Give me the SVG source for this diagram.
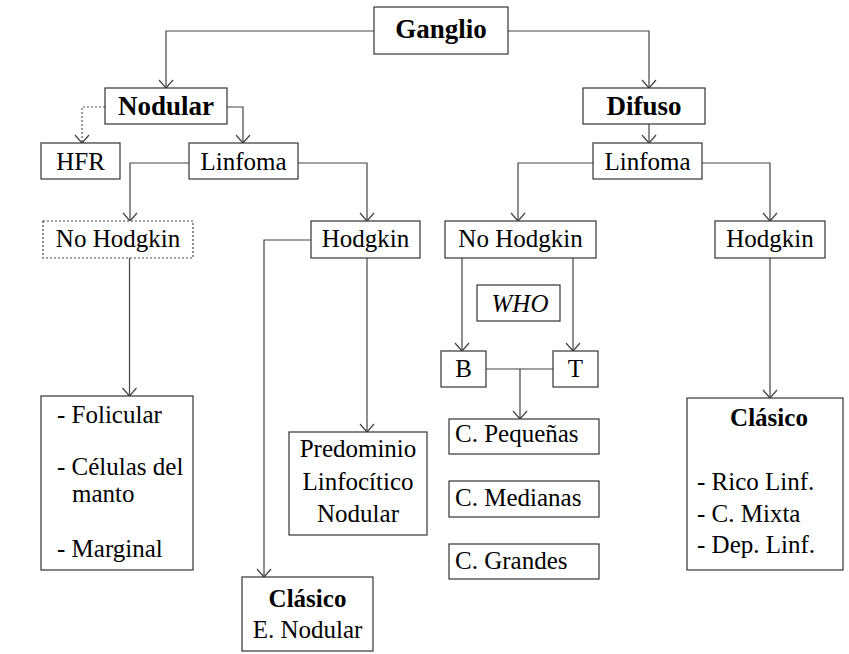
<svg xmlns="http://www.w3.org/2000/svg" width="849" height="654" viewBox="0 0 849 654">
  <defs>
    <marker id="arr" viewBox="-10 -9 12 18" markerWidth="12" markerHeight="18" refX="0" refY="0" orient="auto" markerUnits="userSpaceOnUse">
      <path d="M-8,-7 L0,0 L-8,7" fill="none" stroke="#444" stroke-width="1.2"/>
    </marker>
  </defs>
  <rect width="849" height="654" fill="#fff"/>

  <g id="connectors" fill="none" stroke="#444" stroke-width="1.2">
    <path d="M374,31 H166 V88" marker-end="url(#arr)"/>
    <path d="M508,31 H649 V88" marker-end="url(#arr)"/>
    <path d="M105,107 H82 V143" stroke="#555" stroke-dasharray="2 2" marker-end="url(#arr)"/>
    <path d="M227,107 H243 V143" marker-end="url(#arr)"/>
    <path d="M189,163 H130 V221" marker-end="url(#arr)"/>
    <path d="M298,163 H367 V221" marker-end="url(#arr)"/>
    <path d="M129.5,258 V396" marker-end="url(#arr)"/>
    <path d="M311,240 H264 V577" marker-end="url(#arr)"/>
    <path d="M367,258 V432" marker-end="url(#arr)"/>
    <path d="M649,124 V143" marker-end="url(#arr)"/>
    <path d="M593,163 H518 V221" marker-end="url(#arr)"/>
    <path d="M702,163 H770 V221" marker-end="url(#arr)"/>
    <path d="M462,258 V351" marker-end="url(#arr)"/>
    <path d="M573,258 V351" marker-end="url(#arr)"/>
    <path d="M486,369 H553"/>
    <path d="M520,369 V419" marker-end="url(#arr)"/>
    <path d="M770,258 V398" marker-end="url(#arr)"/>
  </g>

  <g id="ganglio">
    <rect x="374" y="7" width="134" height="47" fill="#fff" stroke="#333" stroke-width="1.2"/>
    <text x="441" y="38" font-family="Liberation Serif" font-size="27" font-weight="bold" text-anchor="middle">Ganglio</text>
  </g>
  <g id="nodular">
    <rect x="105" y="88" width="122" height="36" fill="#fff" stroke="#333" stroke-width="1.2"/>
    <text x="166" y="115" font-family="Liberation Serif" font-size="27" font-weight="bold" text-anchor="middle">Nodular</text>
  </g>
  <g id="hfr">
    <rect x="41" y="143" width="79" height="36" fill="#fff" stroke="#333" stroke-width="1.2"/>
    <text x="80.5" y="170" font-family="Liberation Serif" font-size="25" text-anchor="middle">HFR</text>
  </g>
  <g id="linfoma-nodular">
    <rect x="189" y="143" width="109" height="36" fill="#fff" stroke="#333" stroke-width="1.2"/>
    <text x="243.5" y="170" font-family="Liberation Serif" font-size="25" text-anchor="middle">Linfoma</text>
  </g>
  <g id="no-hodgkin-nodular">
    <rect x="43" y="221" width="150" height="37" fill="#fff" stroke="#444" stroke-width="1.2" stroke-dasharray="2 2"/>
    <text x="118" y="247" font-family="Liberation Serif" font-size="25" text-anchor="middle">No Hodgkin</text>
  </g>
  <g id="hodgkin-nodular">
    <rect x="311" y="221" width="109" height="37" fill="#fff" stroke="#333" stroke-width="1.2"/>
    <text x="365.5" y="247" font-family="Liberation Serif" font-size="25" text-anchor="middle">Hodgkin</text>
  </g>
  <g id="folicular">
    <rect x="41" y="396" width="152" height="174" fill="#fff" stroke="#333" stroke-width="1.2"/>
    <text x="57" y="423" font-family="Liberation Serif" font-size="25">- Folicular</text>
    <text x="57" y="475" font-family="Liberation Serif" font-size="25">- Células del</text>
    <text x="72" y="502" font-family="Liberation Serif" font-size="25">manto</text>
    <text x="57" y="557" font-family="Liberation Serif" font-size="25">- Marginal</text>
  </g>
  <g id="predominio">
    <rect x="289" y="432" width="138" height="103" fill="#fff" stroke="#333" stroke-width="1.2"/>
    <text x="358" y="457" font-family="Liberation Serif" font-size="25" text-anchor="middle">Predominio</text>
    <text x="358" y="490" font-family="Liberation Serif" font-size="25" text-anchor="middle">Linfocítico</text>
    <text x="358" y="522" font-family="Liberation Serif" font-size="25" text-anchor="middle">Nodular</text>
  </g>
  <g id="clasico-nodular">
    <rect x="242" y="577" width="131" height="74" fill="#fff" stroke="#333" stroke-width="1.2"/>
    <text x="307.5" y="607" font-family="Liberation Serif" font-size="25" font-weight="bold" text-anchor="middle">Clásico</text>
    <text x="307.5" y="638" font-family="Liberation Serif" font-size="25" text-anchor="middle">E. Nodular</text>
  </g>

  <g id="difuso">
    <rect x="583" y="88" width="122" height="36" fill="#fff" stroke="#333" stroke-width="1.2"/>
    <text x="644" y="115" font-family="Liberation Serif" font-size="27" font-weight="bold" text-anchor="middle">Difuso</text>
  </g>
  <g id="linfoma-difuso">
    <rect x="593" y="143" width="109" height="36" fill="#fff" stroke="#333" stroke-width="1.2"/>
    <text x="647.5" y="170" font-family="Liberation Serif" font-size="25" text-anchor="middle">Linfoma</text>
  </g>
  <g id="no-hodgkin-difuso">
    <rect x="445" y="221" width="151" height="37" fill="#fff" stroke="#333" stroke-width="1.2"/>
    <text x="520.5" y="247" font-family="Liberation Serif" font-size="25" text-anchor="middle">No Hodgkin</text>
  </g>
  <g id="hodgkin-difuso">
    <rect x="715" y="221" width="110" height="37" fill="#fff" stroke="#333" stroke-width="1.2"/>
    <text x="770" y="247" font-family="Liberation Serif" font-size="25" text-anchor="middle">Hodgkin</text>
  </g>
  <g id="who">
    <rect x="477" y="285" width="83" height="36" fill="#fff" stroke="#333" stroke-width="1.2"/>
    <text x="520" y="312" font-family="Liberation Serif" font-size="25" font-style="italic" text-anchor="middle">WHO</text>
  </g>
  <g id="b">
    <rect x="441" y="351" width="45" height="36" fill="#fff" stroke="#333" stroke-width="1.2"/>
    <text x="463.5" y="377" font-family="Liberation Serif" font-size="25" text-anchor="middle">B</text>
  </g>
  <g id="t">
    <rect x="553" y="351" width="45" height="36" fill="#fff" stroke="#333" stroke-width="1.2"/>
    <text x="575.5" y="377" font-family="Liberation Serif" font-size="25" text-anchor="middle">T</text>
  </g>
  <g id="pequenas">
    <rect x="449" y="419" width="150" height="35" fill="#fff" stroke="#333" stroke-width="1.2"/>
    <text x="455" y="442" font-family="Liberation Serif" font-size="25">C. Pequeñas</text>
  </g>
  <g id="medianas">
    <rect x="449" y="481" width="150" height="36" fill="#fff" stroke="#333" stroke-width="1.2"/>
    <text x="455" y="506" font-family="Liberation Serif" font-size="25">C. Medianas</text>
  </g>
  <g id="grandes">
    <rect x="449" y="544" width="150" height="35" fill="#fff" stroke="#333" stroke-width="1.2"/>
    <text x="455" y="569" font-family="Liberation Serif" font-size="25">C. Grandes</text>
  </g>
  <g id="clasico-difuso">
    <rect x="687" y="398" width="156" height="172" fill="#fff" stroke="#333" stroke-width="1.2"/>
    <text x="769" y="426" font-family="Liberation Serif" font-size="25" font-weight="bold" text-anchor="middle">Clásico</text>
    <text x="697" y="490" font-family="Liberation Serif" font-size="25">- Rico Linf.</text>
    <text x="697" y="522" font-family="Liberation Serif" font-size="25">- C. Mixta</text>
    <text x="697" y="553" font-family="Liberation Serif" font-size="25">- Dep. Linf.</text>
  </g>
</svg>
